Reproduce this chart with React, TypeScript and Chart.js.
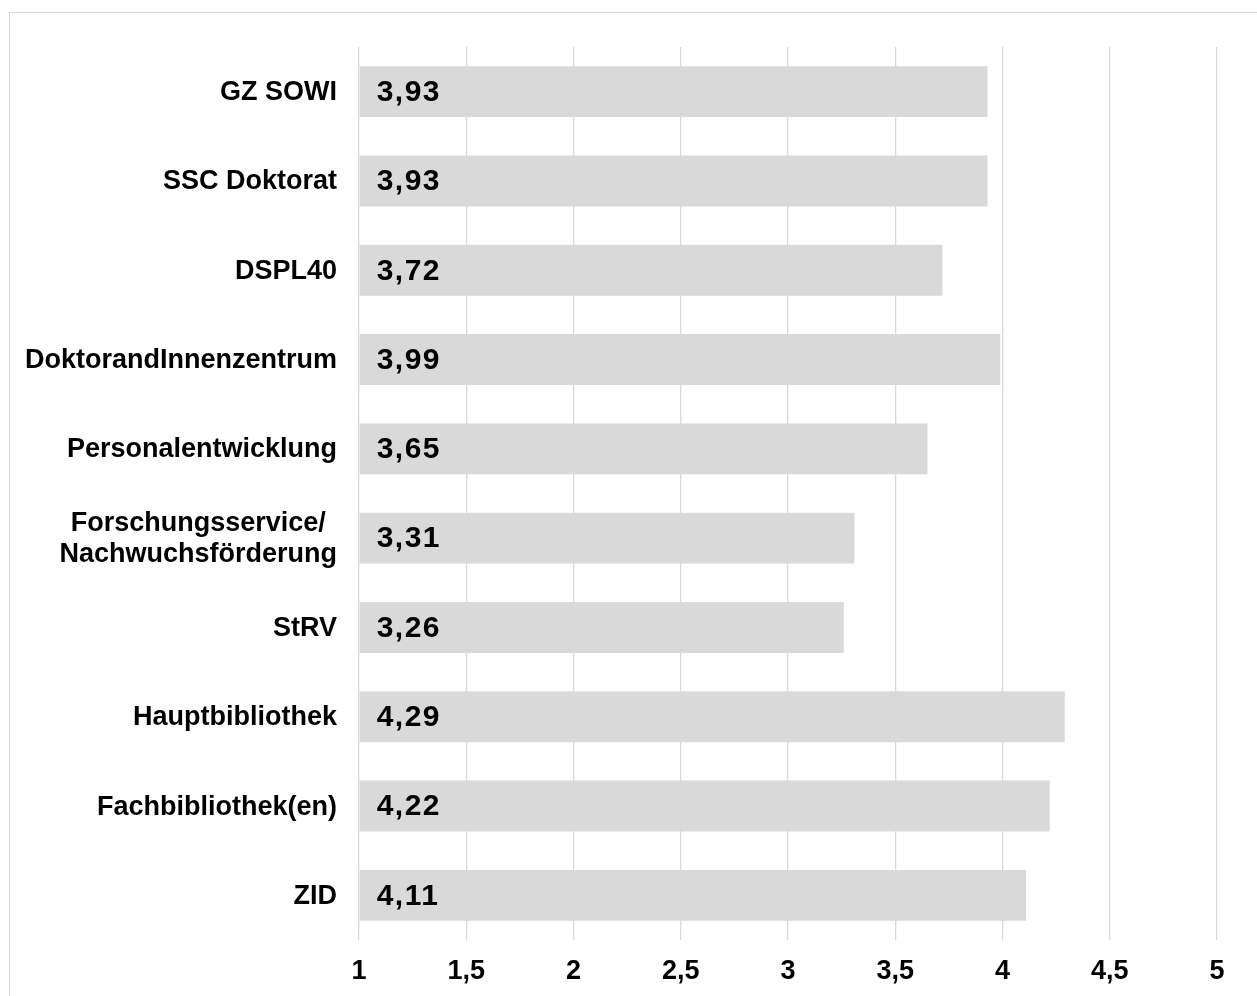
import React, { useEffect, useRef } from "react";
import { Chart, registerables } from "chart.js";

Chart.register(...registerables);

// Service units and their mean ratings
const categories: string[][] = [
  ["GZ SOWI"],
  ["SSC Doktorat"],
  ["DSPL40"],
  ["DoktorandInnenzentrum"],
  ["Personalentwicklung"],
  ["Forschungsservice/", "Nachwuchsförderung"],
  ["StRV"],
  ["Hauptbibliothek"],
  ["Fachbibliothek(en)"],
  ["ZID"],
];
const ratings: number[] = [3.93, 3.93, 3.72, 3.99, 3.65, 3.31, 3.26, 4.29, 4.22, 4.11];

const axisMin = 1;
const axisMax = 5;
const axisStep = 0.5;

const FONT = '"Liberation Sans", Arial, sans-serif';
const fmt = (v: number, digits?: number) =>
  (digits === undefined ? String(v) : v.toFixed(digits)).replace(".", ",");

// Draws the category names (multi-line centred as a block, right aligned) and the
// value labels inside the bars.
const labelPlugin = {
  id: "barLabels",
  afterDatasetsDraw(chart: any) {
    const ctx: CanvasRenderingContext2D = chart.ctx;
    const xs = chart.scales.x;
    const ys = chart.scales.y;
    ctx.save();
    ctx.fillStyle = "#000000";
    ctx.textBaseline = "middle";
    categories.forEach((lines, i) => {
      const cy = ys.getPixelForValue(i);
      ctx.font = `bold 27px ${FONT}`;
      (ctx as any).letterSpacing = "0px";
      const widths = lines.map((l) => ctx.measureText(l).width);
      const maxW = Math.max(...widths);
      const right = xs.left - 22;
      const cx = right - maxW / 2;
      ctx.textAlign = "center";
      lines.forEach((l, k) => {
        ctx.fillText(l, cx, cy + 1 + (k - (lines.length - 1) / 2) * 31);
      });

      const bar = chart.getDatasetMeta(0).data[i];
      const start = Math.min(bar.base, bar.x);
      ctx.font = `bold 30px ${FONT}`;
      (ctx as any).letterSpacing = "1.5px";
      ctx.textAlign = "left";
      ctx.fillText(fmt(ratings[i], 2), start + 17, cy + 1);
    });
    ctx.restore();
  },
};

export default function App() {
  const canvasRef = useRef<HTMLCanvasElement | null>(null);

  useEffect(() => {
    if (!canvasRef.current) return;
    const chart = new Chart(canvasRef.current, {
      type: "bar",
      data: {
        labels: categories.map((c) => c.join(" ")),
        datasets: [
          {
            data: ratings,
            base: axisMin,
            backgroundColor: "#d9d9d9",
            borderWidth: 0,
            barPercentage: 0.57,
            categoryPercentage: 1,
          },
        ],
      },
      options: {
        indexAxis: "y",
        animation: false,
        responsive: false,
        maintainAspectRatio: false,
        events: [],
        layout: { padding: { top: 47, right: 40, bottom: 0, left: 0 } },
        plugins: {
          legend: { display: false },
          tooltip: { enabled: false },
          title: { display: false },
        },
        scales: {
          x: {
            min: axisMin,
            max: axisMax,
            border: { display: false },
            grid: {
              color: "#d9d9d9",
              lineWidth: 1.3,
              drawTicks: false,
            },
            ticks: {
              stepSize: axisStep,
              padding: 15,
              color: "#000000",
              font: { family: FONT, size: 27, weight: "bold" },
              callback: (v: any) => fmt(Number(v)),
            },
            afterFit: (scale: any) => {
              scale.height = 56;
            },
          },
          y: {
            border: { display: false },
            grid: { display: false, drawTicks: false },
            ticks: { display: false },
            afterFit: (scale: any) => {
              scale.width = 359;
            },
          },
        },
      },
      plugins: [labelPlugin],
    });
    return () => chart.destroy();
  }, []);

  return (
    <div
      style={{
        position: "fixed",
        left: 0,
        top: 0,
        width: 1257,
        height: 996,
        overflow: "hidden",
        background: "#ffffff",
      }}
    >
      <div
        style={{
          position: "absolute",
          left: 9,
          top: 12,
          width: 1320,
          height: 1060,
          border: "1px solid #d9d9d9",
          boxSizing: "border-box",
        }}
      />
      <canvas
        ref={canvasRef}
        width={1257}
        height={996}
        style={{ position: "absolute", left: 0, top: 0, width: 1257, height: 996 }}
      />
    </div>
  );
}
